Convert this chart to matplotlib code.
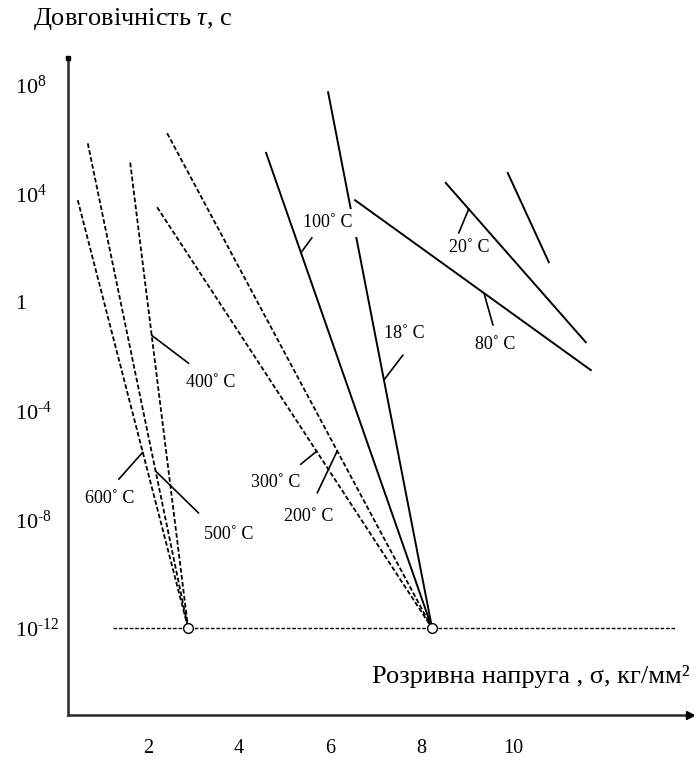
import numpy as np
import matplotlib
matplotlib.use('Agg')
import matplotlib.pyplot as plt

plt.rcParams['font.family'] = ['Liberation Serif', 'DejaVu Serif']
plt.rcParams['mathtext.fontset'] = 'custom'
plt.rcParams['mathtext.rm'] = 'Liberation Serif'
plt.rcParams['mathtext.it'] = 'Liberation Serif:italic'
plt.rcParams['mathtext.bf'] = 'Liberation Serif:bold'

# ---------------- data ----------------
tau0 = 1e-12                      # limiting durability (convergence level)
conv_sigma = [2.88, 8.23]         # convergence (pole) points, kg/mm^2
base_sigma = [1.23, 13.55]        # extent of dashed tau0 line

line_labels = ['600˚ C', '500˚ C', '400˚ C', '300˚ C', '200˚ C',
               '100˚ C', '18˚ C', '80˚ C', '20˚ C', '']
sigma_start = [0.46, 0.68, 1.61, 2.20, 2.42, 4.59, 5.95, 6.54, 8.53, 9.89]
tau_start = [5.8e3, 7.2e5, 1.4e5, 3.2e3, 1.7e6, 3.2e5, 5.5e7, 5.8e3, 2.5e4, 5.8e4]
sigma_end = [2.88, 2.88, 2.88, 8.23, 8.23, 8.23, 8.23, 11.71, 11.60, 10.79]
tau_end = [1e-12, 1e-12, 1e-12, 1e-12, 1e-12, 1e-12, 1e-12, 3.2e-3, 3.4e-2, 30.0]
line_dashed = [True, True, True, True, True, False, False, False, False, False]

x_ticks = [2, 4, 6, 8, 10]
y_ticks = [1e-12, 1e-8, 1e-4, 1, 1e4, 1e8]
y_tick_labels = ['$10^{\u2010 12}$', '$10^{\u2010 8}$', '$10^{\u2010 4}$', '1',
                 r'$10^{4}$', r'$10^{8}$']

# label placement: fraction along line, leader end offset (px), text offset (px)
lab_t = [0.589, 0.676, 0.371, 0.58, 0.642, 0.21, 0.537, 0.547, 0.164, None]
lab_leader = [(-24, -27), (43, -42), (37, -28), (-16, -13), (-20, -42),
              (11, 15), (19, 25), (9, -32), (-10, -24), None]
lab_text = [(-33, -46), (73, -63), (59, -47), (-41, -31), (-29, -66),
            (27, 30), (20, 46), (11, -51), (1, -38), None]

# ---------------- figure ----------------
W, H = 694, 762
fig = plt.figure(figsize=(W / 100, H / 100), dpi=100)
ax = fig.add_axes([68 / W, (H - 715) / H, (690 - 68) / W, (715 - 58) / H])
ax.set_yscale('log')
ax.set_xlim(0.246, 13.886)
ax.set_ylim(10 ** -15.2, 10 ** 9.0)

dash = (0, (2.6, 1.3))
for s0, t0, s1, t1, d in zip(sigma_start, tau_start, sigma_end, tau_end, line_dashed):
    ax.plot([s0, s1], [t0, t1], color='black',
            lw=1.3 if d else 1.4, ls=dash if d else '-', zorder=2)

ax.plot(base_sigma, [tau0, tau0], color='black', lw=1.0, ls=dash, zorder=2)
ax.plot(conv_sigma, [tau0] * len(conv_sigma), 'o', mfc='white', mec='black',
        mew=1.0, ms=7, zorder=5)

for i, lab in enumerate(line_labels):
    if not lab:
        continue
    t = lab_t[i]
    s0, s1 = sigma_start[i], sigma_end[i]
    l0, l1 = np.log10(tau_start[i]), np.log10(tau_end[i])
    x = s0 + t * (s1 - s0)
    y = 10 ** (l0 + t * (l1 - l0))
    ax.annotate('', xy=(x, y), xytext=lab_leader[i], textcoords='offset pixels',
                arrowprops=dict(arrowstyle='-', lw=1.2, color='black',
                                shrinkA=0, shrinkB=0), zorder=3)
    kw = {}
    if lab.startswith('100'):
        kw['bbox'] = dict(fc='white', ec='none', pad=4)
    ax.annotate(lab, xy=(x, y), xytext=lab_text[i], textcoords='offset pixels',
                ha='center', va='center', fontsize=13, zorder=4, **kw)

# axes styling
for sp in ['top', 'right']:
    ax.spines[sp].set_visible(False)
for sp in ['left', 'bottom']:
    ax.spines[sp].set_color('#2a2a2a')
    ax.spines[sp].set_linewidth(1.8)
ax.plot([0], [1], marker='s', ms=3.5, color='black', transform=ax.transAxes,
        clip_on=False, zorder=6)
ax.plot([1], [0], marker='>', ms=6, color='black', transform=ax.transAxes,
        clip_on=False, zorder=6)

ax.set_xticks(x_ticks)
ax.set_xticklabels([str(v) for v in x_ticks], fontsize=14.5)
ax.set_yticks(y_ticks)
ax.set_yticklabels(y_tick_labels, fontsize=16)
ax.yaxis.set_minor_locator(matplotlib.ticker.NullLocator())
ax.tick_params(axis='x', length=0, pad=17)
ax.tick_params(axis='y', length=0, pad=38)
for lbl in ax.get_yticklabels():
    lbl.set_horizontalalignment('left')

fig.text(33 / W, 1 - 19 / H, 'Довговічність $\\it{\\tau}$, с', ha='left', va='center',
         fontsize=19)
fig.text(690 / W, 1 - 677 / H, 'Розривна напруга , σ, кг/мм²', ha='right',
         va='center', fontsize=19)

fig.savefig('out.png', dpi=100)
